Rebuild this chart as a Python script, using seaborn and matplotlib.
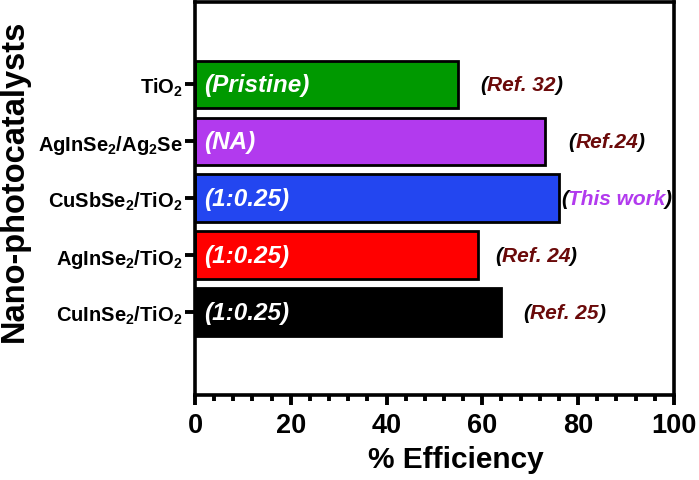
import matplotlib
matplotlib.use("Agg")
import matplotlib.pyplot as plt
import seaborn as sns
import pandas as pd
from matplotlib.ticker import MultipleLocator

# data
catalysts = ['TiO$_2$', 'AgInSe$_2$/Ag$_2$Se', 'CuSbSe$_2$/TiO$_2$',
             'AgInSe$_2$/TiO$_2$', 'CuInSe$_2$/TiO$_2$']
efficiency = [55, 73, 76, 59, 64]
ratios = ['(Pristine)', '(NA)', '(1:0.25)', '(1:0.25)', '(1:0.25)']
refs = ['Ref. 32', 'Ref.24', 'This work', 'Ref. 24', 'Ref. 25']
bar_colors = ['#009900', '#B23AEE', '#2346F0', '#FF0000', '#000000']
ref_colors = ['#6B0A0A', '#6B0A0A', '#B23AEE', '#6B0A0A', '#6B0A0A']
ref_gap = [4.5, 5.0, 0.4, 3.6, 4.5]   # spacing of the ref note after each bar

sns.set_style('white')
plt.rcParams['font.family'] = ['Liberation Sans', 'DejaVu Sans']
plt.rcParams['font.weight'] = 'bold'
plt.rcParams['mathtext.fontset'] = 'custom'
plt.rcParams['mathtext.rm'] = 'Liberation Sans:bold'
plt.rcParams['mathtext.bf'] = 'Liberation Sans:bold'
plt.rcParams['mathtext.it'] = 'Liberation Sans:bold:italic'
plt.rcParams['mathtext.default'] = 'bf'
for key in ['text.color', 'axes.labelcolor', 'xtick.color', 'ytick.color']:
    plt.rcParams[key] = 'black'

df = pd.DataFrame({'cat': catalysts, 'eff': efficiency})

fig = plt.figure(figsize=(6.99, 4.81), dpi=100)
ax = fig.add_axes([0.279, 0.177, 0.685, 0.817])

sns.barplot(data=df, x='eff', y='cat', hue='cat', palette=bar_colors,
            saturation=1, legend=False, orient='h', width=0.84,
            edgecolor='black', linewidth=2, ax=ax)

ax.set_xlim(0, 100)
ax.set_ylim(4 + 1.45, -1.45)
ax.xaxis.set_major_locator(MultipleLocator(20))
ax.xaxis.set_minor_locator(MultipleLocator(4))
ax.tick_params(axis='x', which='major', length=7, width=2.8, labelsize=19.5,
               direction='out', bottom=True, pad=5)
ax.tick_params(axis='x', which='minor', length=4, width=2.8, bottom=True,
               direction='out')
ax.tick_params(axis='y', which='major', length=7, width=2.8, labelsize=14.5,
               direction='out', left=True, pad=2)
for lab in ax.get_xticklabels() + ax.get_yticklabels():
    lab.set_fontweight('bold')
for sp in ax.spines.values():
    sp.set_linewidth(2.6)
    sp.set_color('black')

ax.set_xlabel('% Efficiency', fontsize=21.5, fontweight='bold')
ax.xaxis.set_label_coords(0.545, -0.2)
ax.xaxis.label.set_va('bottom')
ax.set_ylabel('Nano-photocatalysts', fontsize=23.5, fontweight='bold')
ax.yaxis.set_label_coords(-0.378, 0.548)
ax.yaxis.label.set_va('center')

for i, (r, ref) in enumerate(zip(ratios, refs)):
    ax.text(1.8, i, r, color='white', fontsize=17.5, fontweight='bold',
            style='italic', ha='left', va='center')
    t1 = ax.text(efficiency[i] + ref_gap[i], i, '(', color='black',
                 fontsize=15, fontweight='bold', style='italic',
                 ha='left', va='center')
    t2 = ax.annotate(ref, xy=(1, 0), xycoords=t1, va='bottom', ha='left',
                     color=ref_colors[i], fontsize=15, fontweight='bold',
                     style='italic')
    ax.annotate(')', xy=(1, 0), xycoords=t2, va='bottom', ha='left',
                color='black', fontsize=15, fontweight='bold', style='italic')

fig.savefig('out.png', dpi=100)
